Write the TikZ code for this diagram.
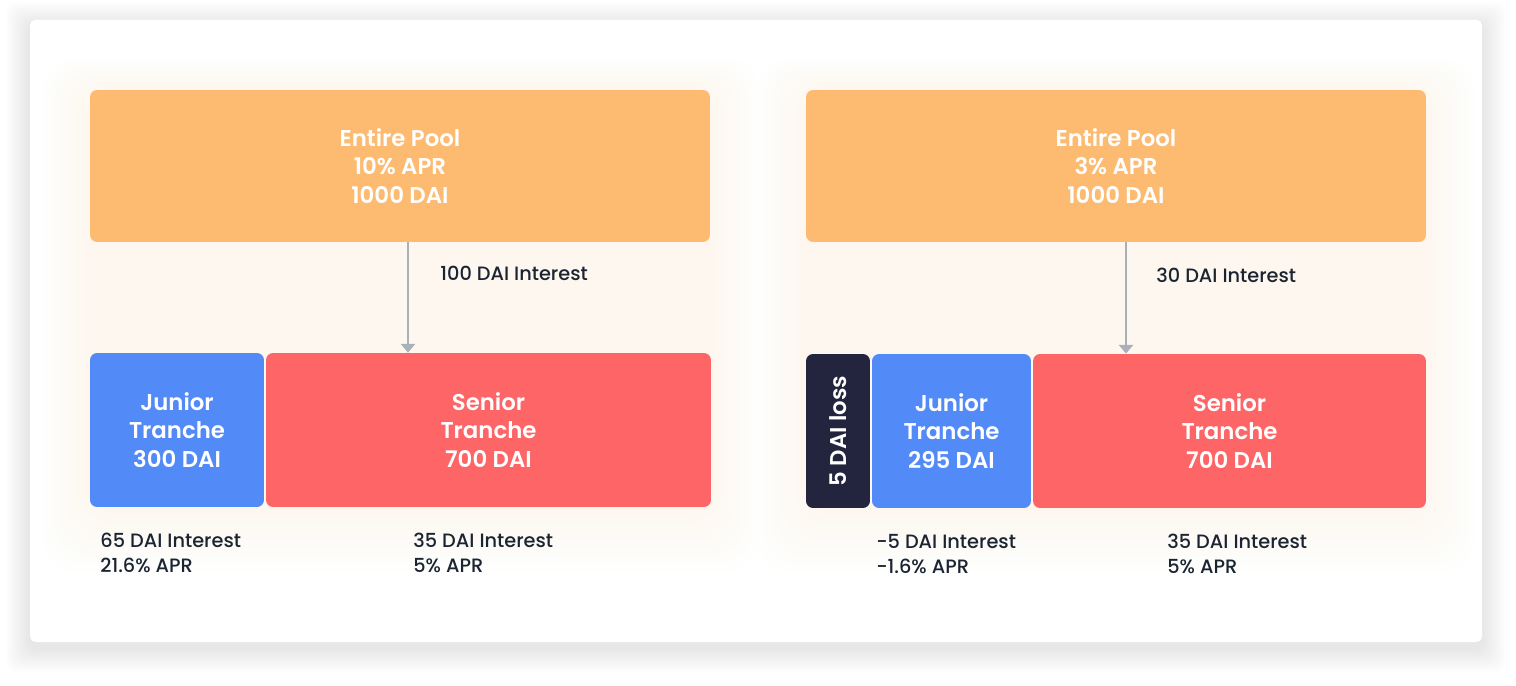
\documentclass[tikz,border=0pt]{standalone}
\usepackage{fontspec}
\IfFontExistsTF{Poppins SemiBold}{\setmainfont{Poppins Medium}[BoldFont={Poppins SemiBold}]}{\setmainfont{Poppins}}
\usepackage{tikz}
\usetikzlibrary{arrows.meta}
\definecolor{poolc}{HTML}{FDBB72}
\definecolor{junc}{HTML}{528AF7}
\definecolor{senc}{HTML}{FE6566}
\definecolor{lossc}{HTML}{23243E}
\definecolor{ink}{HTML}{1B2431}
\definecolor{flowc}{HTML}{A9B0B8}
\tikzset{box/.style={rectangle, rounded corners=4pt, inner sep=0pt, text=white, align=center, font=\bfseries\fontsize{13}{16}\selectfont},
  pool/.style={box, fill=poolc, minimum width=12.4cm, minimum height=3.04cm},
  jun/.style={box, fill=junc, minimum height=3.08cm},
  sen/.style={box, fill=senc, minimum height=3.08cm},
  loss/.style={box, fill=lossc, minimum height=3.08cm, minimum width=1.28cm},
  txt/.style={text=ink, align=left, inner sep=0pt, anchor=west, font=\fontsize{11}{14.2}\selectfont},
  flow/.style={draw=flowc, line width=1.3pt, -{Triangle[length=5pt, width=8pt]}}}
\begin{document}
\begin{tikzpicture}[x=0.02cm, y=-0.02cm]
  \useasboundingbox (0,0) rectangle (1516,686);
  \fill[white] (0,0) rectangle (1516,686);
  \foreach \s in {1,...,12} {
    \fill[black, opacity=0.008, rounded corners=6pt] (30-2*\s,20-2*\s+6) rectangle (1482+2*\s,642+2*\s+6);
  }
  \fill[white, rounded corners=3pt] (30,20) rectangle (1482,642);
  \foreach \s in {1,...,8} {
    \fill[poolc, opacity=0.012, rounded corners=20pt] (90-6*\s,90-4*\s) rectangle (711+6*\s,507+8*\s);
    \fill[poolc, opacity=0.012, rounded corners=20pt] (806-6*\s,90-4*\s) rectangle (1426+6*\s,508+8*\s);
  }
  \node [pool] (pool1) at (400,166) {Entire Pool\\10\% APR\\1000 DAI};
  \node [jun, minimum width=3.48cm] (jun1) at (177,430) {Junior\\Tranche\\300 DAI};
  \node [sen, minimum width=8.9cm] (sen1) at (488.5,430) {Senior\\Tranche\\700 DAI};
  \draw [flow] ([xshift=0.16cm]pool1.south) -- ([xshift=0.16cm]pool1.south |- sen1.north);
  \node [txt] (int1) at (440,273) {100 DAI Interest};
  \node [txt] (ja1) at (100,553) {65 DAI Interest\\21.6\% APR};
  \node [txt] (sa1) at (413,553) {35 DAI Interest\\5\% APR};
  \node [pool] (pool2) at (1116,166) {Entire Pool\\3\% APR\\1000 DAI};
  \node [loss] (loss2) at (838,431) {};
  \node [box, rotate=90] (lt2) at (loss2.center) {5 DAI loss};
  \node [jun, minimum width=3.18cm] (jun2) at (951.5,431) {Junior\\Tranche\\295 DAI};
  \node [sen, minimum width=7.86cm] (sen2) at (1229.5,431) {Senior\\Tranche\\700 DAI};
  \draw [flow] ([xshift=0.2cm]pool2.south) -- ([xshift=0.2cm]pool2.south |- sen2.north);
  \node [txt] (int2) at (1156,275) {30 DAI Interest};
  \node [txt] (ja2) at (876,554) {-5 DAI Interest\\-1.6\% APR};
  \node [txt] (sa2) at (1167,554) {35 DAI Interest\\5\% APR};
\end{tikzpicture}
\end{document}
